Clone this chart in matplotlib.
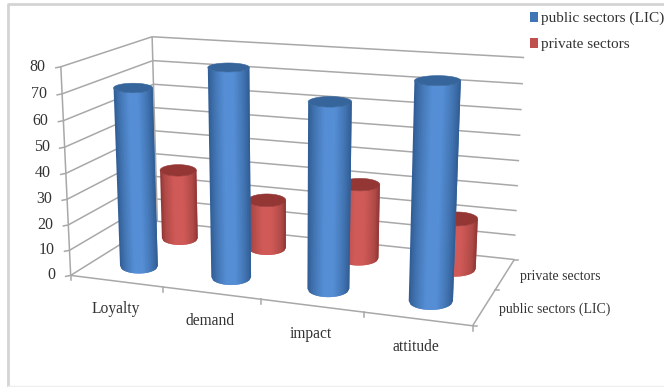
import matplotlib
matplotlib.use('Agg')
import matplotlib.pyplot as plt
import numpy as np
from matplotlib.collections import PolyCollection
from matplotlib.patches import Patch, Polygon

categories = ['Loyalty', 'demand', 'impact', 'attitude']
series_names = ['public sectors (LIC)', 'private sectors']
public_values = [70, 80, 70, 80]
private_values = [29, 20, 30, 20]
z_ticks = [0, 10, 20, 30, 40, 50, 60, 70, 80]

plt.rcParams['font.family'] = ['Liberation Serif', 'DejaVu Serif']
TEXT = '#333333'
GRID = '#a8a8a8'

# calibration of the 3d box: (category, depth, value) -> picture pixels
box_corners = [(0, 0, 0), (4, 0, 0), (4, 2, 0), (0, 2, 0), (0, 0, 80), (0, 2, 80), (4, 2, 80)]
box_pixels = [(72, 275), (472, 327), (515, 258), (156, 222), (60, 66), (153, 37), (524, 58)]

rows = []
for (X, Y, Z), (u, v) in zip(box_corners, box_pixels):
    rows.append([X, Y, Z, 1, 0, 0, 0, 0, -u * X, -u * Y, -u * Z, -u])
    rows.append([0, 0, 0, 0, X, Y, Z, 1, -v * X, -v * Y, -v * Z, -v])
P = np.linalg.svd(np.array(rows, dtype=float))[2][-1].reshape(3, 4)


def project(x, y, z):
    x, y, z = np.broadcast_arrays(np.asarray(x, float), np.asarray(y, float), np.asarray(z, float))
    pts = np.stack([x, y, z, np.ones_like(x)], axis=-1) @ P.T
    return pts[..., :2] / pts[..., 2:3]


def box_line(ax, a, b, lw=1.1, color=GRID):
    p = project(*np.array([a, b]).T)
    ax.plot(p[:, 0], p[:, 1], color=color, lw=lw, solid_capstyle='butt', zorder=1)


def shade(u, dark, mid, light):
    stops = [0, 0.12, 0.38, 0.62, 0.88, 1]
    cols = np.array([dark, mid, light, light, mid, dark])
    return [np.interp(u, stops, cols[:, i]) for i in range(3)]


def disc(cx, cy, z, rx=0.21, ry=0.26):
    # level ellipse (Excel keeps these flat), sized from the projected radius
    c = project(cx, cy, z)
    a = abs(project(cx + rx, cy, z)[0] - project(cx - rx, cy, z)[0]) / 2
    b = abs(project(cx, cy + ry, z)[1] - project(cx, cy - ry, z)[1]) / 2
    return c, a, b


def cylinder(ax, cx, cy, value, palette, z):
    dark, mid, light, top = [matplotlib.colors.to_rgb(c) for c in palette]
    c0, a0, b0 = disc(cx, cy, 0)
    c1, a1, b1 = disc(cx, cy, value)
    n = 24
    t = np.linspace(-1, 1, n + 1)
    low = np.column_stack([c0[0] + a0 * t, c0[1] + b0 * np.sqrt(1 - t ** 2)])
    high = np.column_stack([c1[0] + a1 * t, c1[1] + b1 * np.sqrt(1 - t ** 2)])
    # strips overlap the next one a little so no seams show between them
    strips = [np.vstack([low[k:k + 3], high[k:k + 3][::-1]]) for k in range(n)]
    colors = [shade((k + 0.5) / n, dark, mid, light) for k in range(n)]
    ax.add_collection(PolyCollection(strips, facecolors=colors, edgecolors='none', zorder=z))
    th = np.linspace(0, 2 * np.pi, 90)
    ring = np.column_stack([c1[0] + a1 * np.cos(th), c1[1] + b1 * np.sin(th)])
    ax.add_patch(Polygon(ring, closed=True, facecolor=top, edgecolor=top, lw=0.4, zorder=z + 0.5))


fig = plt.figure(figsize=(6.64, 3.87), dpi=100)
ax = fig.add_axes([0, 0, 1, 1])
ax.set_xlim(0, 664)
ax.set_ylim(387, 0)
ax.axis('off')

# picture frame
ax.plot([8, 8, 664], [386, 4, 4], color='#d4d4d4', lw=2, zorder=0)
ax.plot([8, 664], [386, 386], color='#eeeeee', lw=1, zorder=0)

# walls and gridlines
for v in z_ticks:
    box_line(ax, (0, 0, v), (0, 2, v))
    box_line(ax, (0, 2, v), (4, 2, v))
    p = project(0, 0, v)
    ax.plot([p[0] - 5, p[0]], [p[1] + 1, p[1]], color=GRID, lw=1.1, zorder=1)
    ax.text(p[0] - 15, p[1], str(v), ha='right', va='center', fontsize=11.5, color=TEXT)
box_line(ax, (0, 0, 0), (0, 0, 80))
box_line(ax, (0, 2, 0), (0, 2, 80))
box_line(ax, (0, 0, 0), (4, 0, 0))
box_line(ax, (4, 0, 0), (4, 2, 0))

# ticks under the floor
for i in range(5):
    p = project(i, 0, 0)
    ax.plot([p[0], p[0]], [p[1], p[1] + 5], color=GRID, lw=1.1, zorder=1)
for j in range(3):
    p = project(4, j, 0)
    ax.plot([p[0], p[0] + 4], [p[1], p[1]], color=GRID, lw=1.1, zorder=1)

for i, name in enumerate(categories):
    p = project(i + 0.5, 0, 0)
    ax.text(p[0] - 1, p[1] + 28, name, ha='center', va='center', fontsize=11.2, color=TEXT)
for j, name in enumerate(series_names):
    p = project(4, j + 0.5, 0)
    ax.text(p[0] + 15, p[1] + 2, name, ha='left', va='center', fontsize=10, color=TEXT)

blue = ('#2f5c92', '#3f70ad', '#558ed5', '#36659c')
red = ('#8e3634', '#b04a47', '#d05a57', '#943634')

# back row first so the front row covers it
for i, v in enumerate(private_values):
    cylinder(ax, i + 0.5, 1.5, v, red, 3 + i)
for i, v in enumerate(public_values):
    cylinder(ax, i + 0.5, 0.5, v, blue, 10 + i)

handles = [Patch(facecolor='#3f75b5', edgecolor='none'), Patch(facecolor='#c0504d', edgecolor='none')]
ax.legend(handles, series_names, loc='upper left', bbox_to_anchor=(530 / 664, 1 - 12 / 387),
          frameon=False, fontsize=11, handlelength=0.55, handleheight=0.55, handletextpad=0.15,
          labelspacing=0.85, borderaxespad=0, borderpad=0, labelcolor=TEXT)

fig.savefig('out.png', dpi=100)
